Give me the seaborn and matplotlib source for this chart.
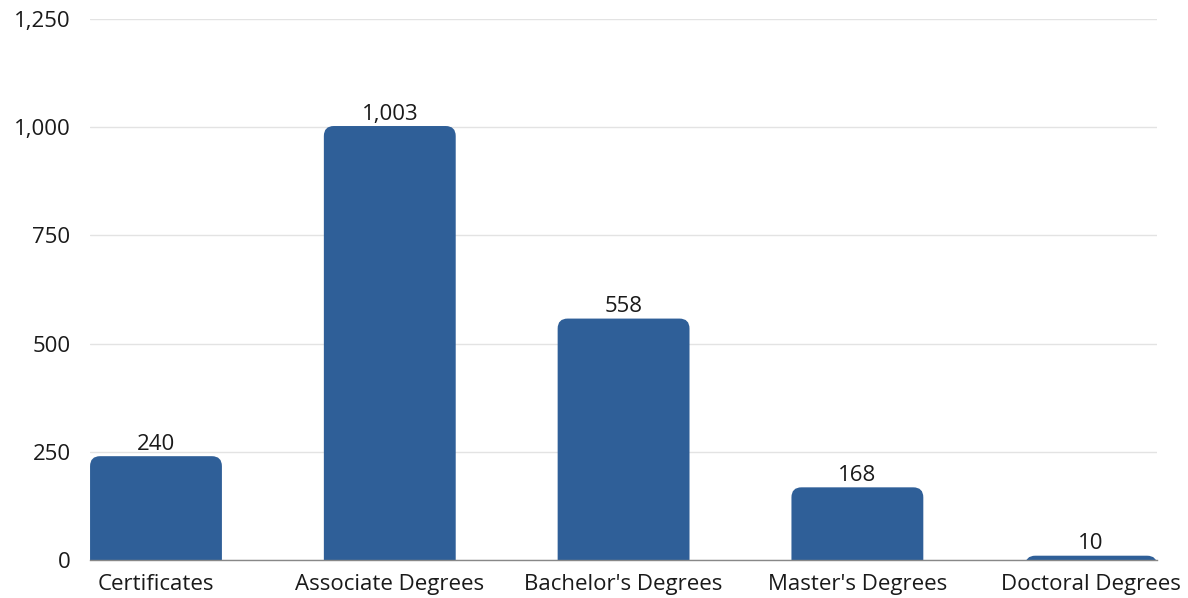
import matplotlib
matplotlib.use("Agg")
import matplotlib.pyplot as plt
import seaborn as sns
import pandas as pd
from matplotlib.patches import FancyBboxPatch
from matplotlib.ticker import FuncFormatter

categories = ["Certificates", "Associate Degrees", "Bachelor's Degrees", "Master's Degrees", "Doctoral Degrees"]
values = [240, 1003, 558, 168, 10]
yticks = [0, 250, 500, 750, 1000, 1250]

sns.set_theme(style="white")
plt.rcParams['font.family'] = ['Open Sans', 'DejaVu Sans']

df = pd.DataFrame({"cat": categories, "val": values})
fig = plt.figure(figsize=(11.88, 5.98), dpi=100)
ax = fig.add_axes([0.0758, 0.0635, 0.974 - 0.0758, 0.968 - 0.0635])
color = "#2f5f98"
sns.barplot(data=df, x="cat", y="val", color=color, width=0.564, ax=ax, saturation=1)

ax.set_xlim(-0.282, 4.282)
ax.set_ylim(0, 1250)
ax.set_yticks(yticks)
ax.yaxis.set_major_formatter(FuncFormatter(lambda v, p: f"{int(v):,}"))
ax.set_xlabel("")
ax.set_ylabel("")
for s in ["top", "right", "left"]:
    ax.spines[s].set_visible(False)
ax.spines["bottom"].set_color("#888888")
ax.spines["bottom"].set_linewidth(1.0)
ax.yaxis.grid(True, color="#e3e3e3", linewidth=1.0)
ax.set_axisbelow(True)
ax.tick_params(axis="both", length=0, labelsize=16, colors="#1a1a1a")
ax.tick_params(axis="y", pad=14)
ax.tick_params(axis="x", pad=10)

# replace bars with rounded-top versions
fig.canvas.draw()
bbox = ax.get_window_extent()
xpp = (ax.get_xlim()[1] - ax.get_xlim()[0]) / bbox.width
ypp = (ax.get_ylim()[1] - ax.get_ylim()[0]) / bbox.height
r_px = 10
rx = r_px * xpp
aspect = ypp / xpp
extra = r_px * ypp * 1.5
patches = list(ax.patches)
for p in patches:
    x, w, h = p.get_x(), p.get_width(), p.get_height()
    p.remove()
    fb = FancyBboxPatch((x, -extra), w, h + extra,
                        boxstyle=f"round,pad=0,rounding_size={rx}",
                        mutation_aspect=aspect, facecolor=color, edgecolor="none",
                        clip_on=True, zorder=2)
    ax.add_patch(fb)

for i, v in enumerate(values):
    ax.annotate(f"{v:,}", (i, v), xytext=(0, 1), textcoords="offset points",
                ha="center", va="bottom", fontsize=16, color="#1a1a1a")

fig.savefig("out.png", dpi=100)
